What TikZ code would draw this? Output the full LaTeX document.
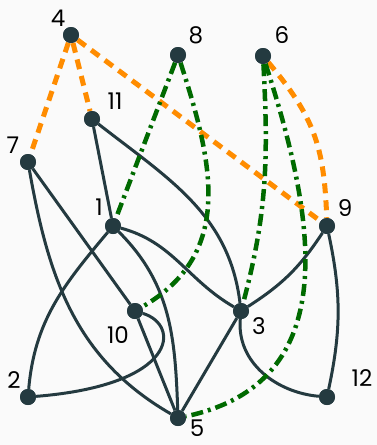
\documentclass[tikz,border=0pt]{standalone}
\usepackage{fontspec}
\setmainfont{Poppins}
\definecolor{nodecol}{HTML}{243A40}
\definecolor{orng}{HTML}{FF8C00}
\definecolor{grn}{HTML}{006A00}
\definecolor{bgc}{HTML}{FAFAFA}
\begin{document}
\begin{tikzpicture}[x=1pt,y=1pt,
  vert/.style={circle,fill=nodecol,inner sep=0pt,minimum size=16pt},
  lbl/.style={font=\fontsize{23}{23}\selectfont,text=black,inner sep=0pt},
  solidedge/.style={draw=nodecol,line width=3pt},
  orangeedge/.style={draw=orng,line width=5pt,dash pattern=on 10pt off 7pt},
  greenedge/.style={draw=grn,line width=4.5pt,dash pattern=on 12pt off 5pt on 3pt off 5pt}]
\fill[bgc] (0,0) rectangle (377,-445);
\useasboundingbox (0,0) rectangle (377,-445);
\node[vert] (n4) at (71,-35) {};
\node[vert] (n8) at (178,-55) {};
\node[vert] (n6) at (263,-56) {};
\node[vert] (n11) at (92,-119) {};
\node[vert] (n7) at (28,-162) {};
\node[vert] (n1) at (113,-226) {};
\node[vert] (n9) at (327,-226) {};
\node[vert] (n10) at (135,-311) {};
\node[vert] (n3) at (241,-311) {};
\node[vert] (n2) at (28,-397) {};
\node[vert] (n12) at (327,-397) {};
\node[vert] (n5) at (178,-418) {};
\path[solidedge] (n11) -- (n1);
\path[solidedge] (n11) to[out=-38,in=97] (n3);
\path[solidedge] (n7) -- (n10);
\path[solidedge] (n7) to[out=-80,in=150] (n5);
\path[solidedge] (n1) to[out=-130,in=85] (n2);
\path[solidedge] (n1) to[out=-45,in=92] (n5);
\path[solidedge] (n1) to[out=-15,in=150] (n3);
\path[solidedge] (n10) -- (n5);
\path[solidedge] (n10) .. controls +(46,-14) and +(150,12) .. (n2);
\path[solidedge] (n3) to[bend right=12] (n9);
\path[solidedge] (n3) -- (n5);
\path[solidedge] (n3) to[out=-95,in=175] (n12);
\path[solidedge] (n9) to[bend left=12] (n12);
\path[orangeedge] (n4) -- (n7);
\path[orangeedge] (n4) -- (n11);
\path[orangeedge] (n4) -- (n9);
\path[orangeedge] (n6) to[out=-50,in=92,looseness=1.1] (n9);
\path[greenedge] (n8) -- (n1);
\path[greenedge] (n8) to[out=-72,in=30,looseness=1.1] (n10);
\path[greenedge] (n6) to[out=-87,in=75] (n3);
\path[greenedge] (n6) to[out=-72,in=12,looseness=1.15] (n5);
\foreach \n/\x/\y in {n4/71/35,n8/178/55,n6/263/56,n11/92/119,n7/28/162,n1/113/226,n9/327/226,n10/135/311,n3/241/311,n2/28/397,n12/327/397,n5/178/418}
  \node[vert] at (\x,-\y) {};
\node[lbl] (l4) at (58,-18) {4};
\node[lbl] (l8) at (196,-35) {8};
\node[lbl] (l6) at (282,-35) {6};
\node[lbl] (l11) at (115,-101) {11};
\node[lbl] (l7) at (13,-145) {7};
\node[lbl] (l1) at (99,-207) {1};
\node[lbl] (l9) at (345,-208) {9};
\node[lbl] (l10) at (118,-335) {10};
\node[lbl] (l3) at (259,-326) {3};
\node[lbl] (l2) at (14,-380) {2};
\node[lbl] (l12) at (362,-378) {12};
\node[lbl] (l5) at (197,-428) {5};
\end{tikzpicture}
\end{document}
